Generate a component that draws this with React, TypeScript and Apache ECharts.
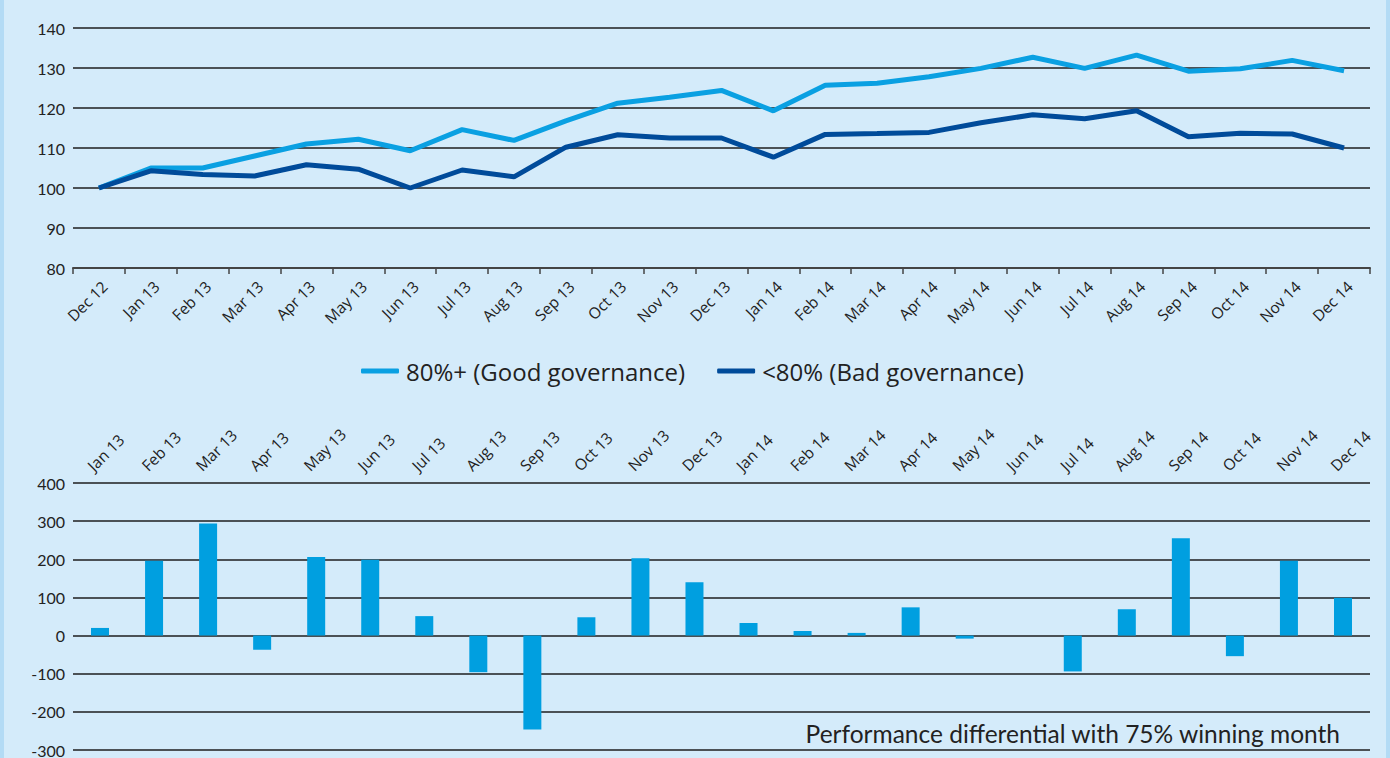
import React, { useEffect, useRef } from "react";
import * as echarts from "echarts";

const lineMonths = [
  "Dec 12", "Jan 13", "Feb 13", "Mar 13", "Apr 13", "May 13", "Jun 13", "Jul 13", "Aug 13",
  "Sep 13", "Oct 13", "Nov 13", "Dec 13", "Jan 14", "Feb 14", "Mar 14", "Apr 14", "May 14",
  "Jun 14", "Jul 14", "Aug 14", "Sep 14", "Oct 14", "Nov 14", "Dec 14",
];
const goodGov = [
  100, 105, 105, 108, 111, 112.2, 109.3, 114.6, 111.9, 116.8, 121.2, 122.7, 124.4, 119.3,
  125.7, 126.2, 127.8, 129.9, 132.7, 129.9, 133.2, 129.2, 129.8, 131.9, 129.3,
];
const badGov = [
  100, 104.3, 103.4, 103, 105.8, 104.7, 100, 104.5, 102.8, 110.2, 113.3, 112.5, 112.5, 107.7,
  113.4, 113.6, 113.9, 116.3, 118.3, 117.3, 119.3, 112.8, 113.7, 113.5, 110,
];
const barMonths = lineMonths.slice(1);
const differential = [
  20, 196, 294, -37, 206, 199, 51, -96, -246, 48, 203, 140, 33, 12, 7, 74, -8, 0, -94, 69,
  255, -54, 196, 99,
];
const seriesNames = ["80%+ (Good governance)", "<80% (Bad governance)"];
const noteText = "Performance differential with 75% winning month";

const FONT = "Lato, 'Open Sans', sans-serif";
const AXFONT = "'Open Sans', sans-serif";

export default function App() {
  const ref = useRef<HTMLDivElement>(null);
  useEffect(() => {
    if (!ref.current) return;
    const chart = echarts.init(ref.current, null, { renderer: "svg" });
    chart.setOption({
      animation: false,
      backgroundColor: "#d4ebfa",
      textStyle: { fontFamily: FONT },
      legend: {
        data: seriesNames,
        left: 356,
        top: 354,
        icon: "roundRect",
        itemWidth: 38,
        itemHeight: 5,
        itemGap: 32,
        textStyle: { fontSize: 24, color: "#222", fontFamily: AXFONT, padding: [0, 0, 0, 2] },
      },
      grid: [
        { left: 73, right: 20, top: 28, height: 240 },
        { left: 73, right: 20, top: 483, height: 270.6 },
      ],
      xAxis: [
        {
          type: "category",
          gridIndex: 0,
          data: lineMonths,
          boundaryGap: true,
          axisLine: { lineStyle: { color: "#444", width: 2 } },
          axisTick: { show: true, length: 6, lineStyle: { color: "#444", width: 1.5 } },
          axisLabel: {
            rotate: 45,
            fontSize: 15.5,
            color: "#222",
            margin: 10,
            interval: 0,
            verticalAlign: "top",
            fontFamily: AXFONT,
          },
        },
        {
          type: "category",
          gridIndex: 1,
          position: "top",
          data: barMonths,
          boundaryGap: true,
          axisLine: { show: false },
          axisTick: { show: false },
          axisLabel: {
            rotate: 45,
            fontSize: 15.5,
            color: "#222",
            margin: 5,
            interval: 0,
            verticalAlign: "bottom",
            lineHeight: 28,
            fontFamily: AXFONT,
          },
        },
      ],
      yAxis: [
        {
          type: "value",
          gridIndex: 0,
          min: 80,
          max: 140,
          interval: 10,
          axisLine: { show: false },
          axisTick: { show: false },
          axisLabel: { fontSize: 16, color: "#222", margin: 8 },
          splitLine: { lineStyle: { color: "#1e1e1e", width: 1.5 } },
        },
        {
          type: "value",
          gridIndex: 1,
          min: -300,
          max: 400,
          interval: 100,
          axisLine: { show: false },
          axisTick: { show: false },
          axisLabel: { fontSize: 16, color: "#222", margin: 8 },
          splitLine: { lineStyle: { color: "#1e1e1e", width: 1.5 } },
        },
      ],
      series: [
        {
          name: seriesNames[0],
          type: "line",
          xAxisIndex: 0,
          yAxisIndex: 0,
          data: goodGov,
          symbol: "none",
          color: "#0aa0e2",
          lineStyle: { width: 5, color: "#0aa0e2" },
          z: 3,
        },
        {
          name: seriesNames[1],
          type: "line",
          xAxisIndex: 0,
          yAxisIndex: 0,
          data: badGov,
          symbol: "none",
          color: "#004b9a",
          lineStyle: { width: 5, color: "#004b9a" },
          z: 4,
        },
        {
          name: "Differential",
          type: "bar",
          xAxisIndex: 1,
          yAxisIndex: 1,
          data: differential,
          barWidth: 18,
          itemStyle: { color: "#009fe0" },
        },
      ],
      graphic: [
        {
          type: "text",
          right: 49,
          top: 721,
          style: { text: noteText, fontSize: 24.5, fill: "#222", fontFamily: FONT },
        },
        { type: "rect", shape: { x: 0, y: 0, width: 4, height: 758 }, style: { fill: "#b3dbf5" } },
        { type: "rect", shape: { x: 1386, y: 0, width: 4, height: 758 }, style: { fill: "#b3dbf5" } },
      ],
    });
    return () => chart.dispose();
  }, []);
  return (
    <div
      ref={ref}
      style={{ position: "absolute", left: 0, top: 0, width: 1390, height: 758 }}
    />
  );
}
